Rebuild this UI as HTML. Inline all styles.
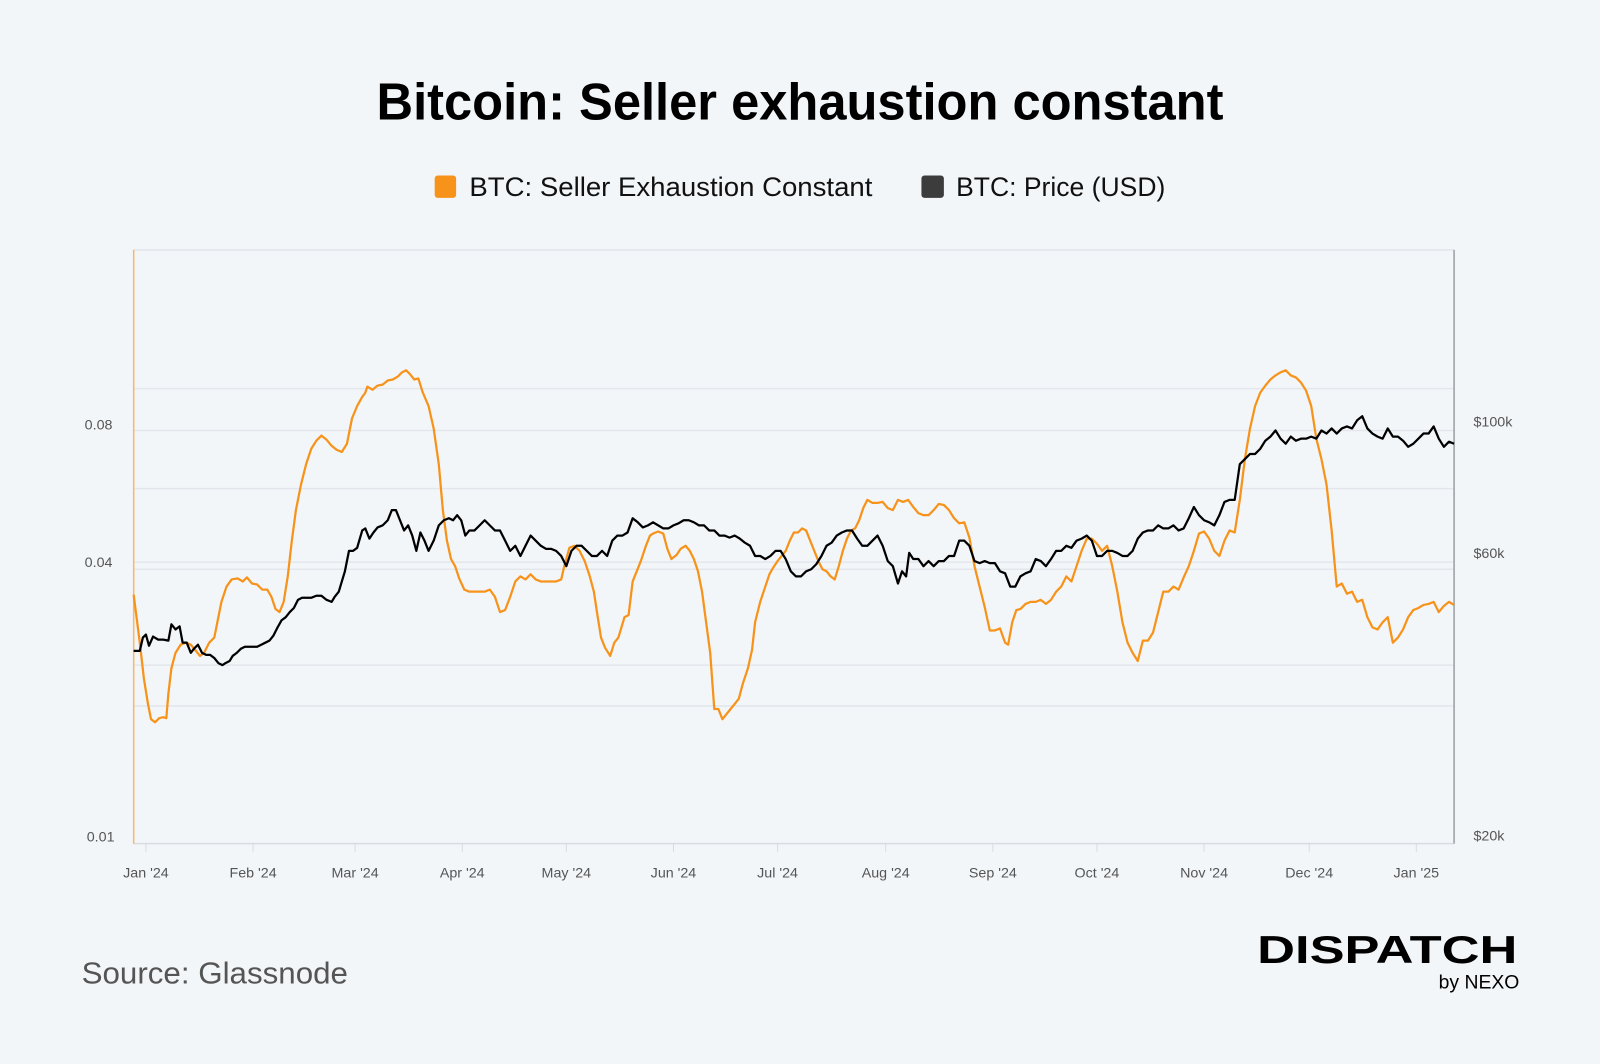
<!DOCTYPE html>
<html><head><meta charset="utf-8"><style>
html,body{margin:0;padding:0;background:#f3f6f9;}
svg{display:block;}
text{font-family:"Liberation Sans",sans-serif;}
</style></head><body>
<svg width="1600" height="1064" viewBox="0 0 1568 1043" preserveAspectRatio="none" xmlns="http://www.w3.org/2000/svg">
<rect width="1568" height="1043" fill="#f3f6f9"/>
<text x="784" y="117" text-anchor="middle" font-size="51" font-weight="bold" fill="#000" textLength="830" lengthAdjust="spacingAndGlyphs">Bitcoin: Seller exhaustion constant</text>
<rect x="426" y="172" width="21" height="22" rx="3" fill="#f7931a"/>
<text x="460" y="192" font-size="26" fill="#111" textLength="395" lengthAdjust="spacingAndGlyphs">BTC: Seller Exhaustion Constant</text>
<rect x="903" y="172" width="22" height="22" rx="3" fill="#3c3c3c"/>
<text x="937" y="192" font-size="26" fill="#111" textLength="205" lengthAdjust="spacingAndGlyphs">BTC: Price (USD)</text>
<g stroke="#e3e7ec" stroke-width="1.5">
<line x1="131" y1="245" x2="1425" y2="245"/>
<line x1="131" y1="381" x2="1425" y2="381"/>
<line x1="131" y1="422" x2="1425" y2="422"/>
<line x1="131" y1="479" x2="1425" y2="479"/>
<line x1="131" y1="551" x2="1425" y2="551"/>
<line x1="131" y1="558" x2="1425" y2="558"/>
<line x1="131" y1="652" x2="1425" y2="652"/>
<line x1="131" y1="692" x2="1425" y2="692"/>
</g>
<line x1="131" y1="827" x2="1425" y2="827" stroke="#d8dce1" stroke-width="1.5"/>
<line x1="131" y1="245" x2="131" y2="827" stroke="#f7b866" stroke-width="1.5"/>
<line x1="1425" y1="245" x2="1425" y2="827" stroke="#9aa0a6" stroke-width="1.5"/>
<g stroke="#d8dce1" stroke-width="1">
<line x1="143" y1="827" x2="143" y2="835"/><line x1="248" y1="827" x2="248" y2="835"/><line x1="348" y1="827" x2="348" y2="835"/><line x1="453" y1="827" x2="453" y2="835"/><line x1="555" y1="827" x2="555" y2="835"/><line x1="660" y1="827" x2="660" y2="835"/><line x1="762" y1="827" x2="762" y2="835"/><line x1="868" y1="827" x2="868" y2="835"/><line x1="973" y1="827" x2="973" y2="835"/><line x1="1075" y1="827" x2="1075" y2="835"/><line x1="1180" y1="827" x2="1180" y2="835"/><line x1="1283" y1="827" x2="1283" y2="835"/><line x1="1388" y1="827" x2="1388" y2="835"/>
</g>
<g font-size="14" fill="#555" text-anchor="middle">
<text x="143" y="860">Jan '24</text><text x="248" y="860">Feb '24</text><text x="348" y="860">Mar '24</text><text x="453" y="860">Apr '24</text><text x="555" y="860">May '24</text><text x="660" y="860">Jun '24</text><text x="762" y="860">Jul '24</text><text x="868" y="860">Aug '24</text><text x="973" y="860">Sep '24</text><text x="1075" y="860">Oct '24</text><text x="1180" y="860">Nov '24</text><text x="1283" y="860">Dec '24</text><text x="1388" y="860">Jan '25</text>
</g>
<g font-size="14" fill="#555">
<text x="83" y="421">0.08</text><text x="83" y="556">0.04</text><text x="85" y="825">0.01</text>
<text x="1444" y="418">$100k</text><text x="1444" y="547">$60k</text><text x="1444" y="824">$20k</text>
</g>
<polyline fill="none" stroke="#f7931a" stroke-width="2.2" stroke-linejoin="round" points="131,583 137,630 141,665 145,690 148,705 152,708 156,704 160,703 163,704 165,680 168,655 172,640 177,632 182,630 187,632 192,638 196,643 200,640 205,630 210,625 213,610 217,590 222,575 227,568 233,567 238,570 242,566 247,572 252,573 257,578 262,578 266,585 270,597 274,600 278,590 282,565 286,530 290,500 295,475 300,455 305,440 310,432 315,427 320,431 325,437 330,441 335,443 340,435 345,410 350,398 355,389 358,385 360,379 365,382 370,378 375,377 380,373 385,372 390,369 394,365 398,363 402,367 406,372 410,371 414,384 420,398 425,420 430,455 434,500 438,530 442,548 446,555 450,567 455,578 460,580 465,580 470,580 475,580 480,578 485,585 490,600 495,598 500,585 505,570 510,565 515,568 520,563 525,568 530,570 535,570 540,570 545,570 550,568 553,555 558,537 563,535 568,540 573,550 578,565 582,580 585,600 589,625 593,635 598,643 602,630 606,625 612,605 616,603 620,570 624,560 628,550 633,535 637,525 640,523 645,521 650,523 654,538 658,548 663,544 667,538 672,535 676,540 680,548 684,560 688,580 692,610 696,640 700,695 704,695 708,705 712,700 716,695 720,690 724,685 728,670 733,655 737,637 740,610 745,590 750,575 754,563 758,556 762,550 766,545 770,540 774,530 778,522 782,522 786,518 790,520 794,530 798,540 802,550 806,558 810,560 814,565 818,568 822,555 826,540 830,528 834,520 838,518 842,510 846,498 850,490 855,493 860,493 865,492 870,498 875,500 880,490 885,492 890,490 895,497 900,503 905,505 910,505 915,500 920,494 925,495 930,500 935,508 940,513 945,512 950,527 955,555 960,575 965,595 970,618 975,618 980,616 985,630 988,632 992,610 996,598 1000,597 1005,592 1010,590 1015,590 1020,588 1025,592 1030,588 1035,580 1040,575 1045,565 1050,570 1055,555 1060,540 1065,528 1070,528 1075,533 1080,540 1085,535 1090,555 1095,580 1100,610 1105,630 1110,640 1115,648 1120,628 1125,628 1130,620 1135,600 1140,580 1145,580 1150,575 1155,578 1160,566 1165,555 1170,540 1175,523 1180,521 1185,528 1190,540 1195,545 1200,530 1205,520 1210,522 1215,490 1220,450 1225,420 1230,398 1235,385 1240,378 1245,372 1250,368 1255,365 1260,363 1265,368 1270,370 1275,375 1280,383 1285,398 1290,430 1295,450 1300,475 1305,520 1310,575 1315,572 1320,582 1325,580 1330,590 1335,588 1340,605 1345,615 1350,617 1355,610 1360,605 1365,630 1370,625 1375,617 1380,605 1385,598 1390,596 1395,593 1400,592 1405,590 1410,600 1415,594 1420,590 1425,593"/>
<polyline fill="none" stroke="#000" stroke-width="2.2" stroke-linejoin="round" points="131,638 137,638 140,625 143,622 146,633 150,624 155,627 160,627 165,628 168,612 172,617 176,614 179,630 183,630 187,640 190,636 194,632 198,640 202,642 206,642 210,645 214,650 218,652 221,650 225,648 228,643 232,640 236,636 240,634 244,634 248,634 252,634 256,632 260,630 264,628 268,623 272,615 276,608 280,605 284,600 288,596 292,588 296,586 300,586 305,586 310,584 315,584 320,588 325,590 328,585 332,580 335,570 338,560 342,540 346,540 350,537 355,520 358,518 362,528 366,522 370,517 375,515 380,510 384,500 388,500 392,510 396,520 400,515 404,525 408,540 412,522 416,530 420,540 425,530 430,515 435,510 440,508 444,510 448,505 452,510 456,525 460,520 465,520 470,515 475,510 480,515 485,520 490,520 495,530 500,540 505,535 510,545 515,535 520,525 525,530 530,535 535,538 540,538 545,540 550,545 555,555 560,540 565,535 570,535 575,540 580,545 585,545 590,540 595,545 600,530 605,525 610,525 615,522 620,508 625,512 630,517 635,515 640,512 645,515 650,518 655,518 660,515 665,513 670,510 675,510 680,512 685,515 690,515 695,520 700,520 705,525 710,525 715,527 720,525 725,528 730,532 735,535 740,545 745,545 750,548 755,545 760,540 765,540 770,548 775,560 780,565 785,565 790,560 795,558 800,553 805,545 810,535 815,532 820,525 825,522 830,520 835,520 840,528 845,535 850,535 855,530 860,525 865,535 870,550 875,555 880,572 884,560 888,565 891,542 895,548 900,548 905,555 910,550 915,555 920,550 925,550 930,545 935,545 940,530 945,530 950,535 955,550 960,552 965,550 970,552 975,552 980,560 985,562 990,575 995,575 1000,565 1005,562 1010,560 1015,548 1020,550 1025,555 1030,548 1035,540 1040,540 1045,535 1050,537 1055,530 1060,528 1065,525 1070,530 1075,545 1080,545 1085,540 1090,540 1095,542 1100,545 1105,545 1110,540 1115,528 1120,522 1125,520 1130,520 1135,515 1140,518 1145,518 1150,515 1155,520 1160,518 1165,508 1170,497 1175,505 1180,510 1185,512 1190,515 1195,505 1200,492 1205,490 1210,490 1215,455 1220,450 1225,445 1230,445 1235,440 1240,432 1245,428 1250,422 1255,430 1260,435 1265,428 1270,432 1275,430 1280,430 1285,428 1290,430 1295,422 1300,425 1305,420 1310,425 1315,420 1320,418 1325,420 1330,412 1335,408 1340,420 1345,425 1350,428 1355,430 1360,420 1365,428 1370,428 1375,432 1380,438 1385,435 1390,430 1395,425 1400,425 1405,418 1410,430 1415,438 1420,433 1425,435"/>
<text x="80" y="964" font-size="30" fill="#555" textLength="261" lengthAdjust="spacingAndGlyphs">Source: Glassnode</text>
<text x="1232" y="944" font-size="38" font-weight="bold" fill="#000" textLength="255" lengthAdjust="spacingAndGlyphs">DISPATCH</text>
<text x="1489" y="969" text-anchor="end" font-size="19" fill="#000">by NEXO</text>
</svg>
</body></html>
